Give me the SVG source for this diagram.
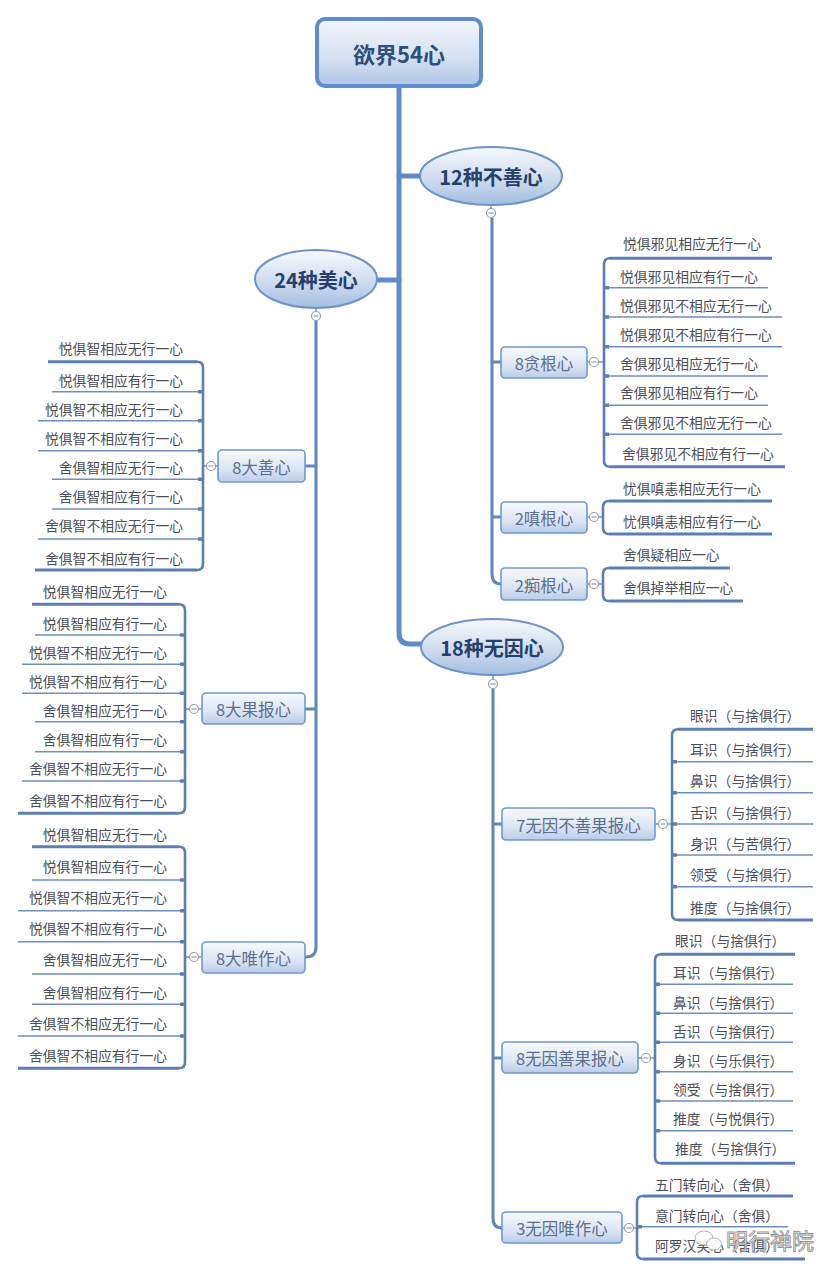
<svg xmlns="http://www.w3.org/2000/svg" width="831" height="1277" viewBox="0 0 831 1277">
<defs>
<linearGradient id="gEll" x1="0" y1="0" x2="0" y2="1">
<stop offset="0" stop-color="#f6f9fd"/><stop offset="0.55" stop-color="#cfdcef"/><stop offset="1" stop-color="#a4bde0"/>
</linearGradient>
<linearGradient id="gRect" x1="0" y1="0" x2="0" y2="1">
<stop offset="0" stop-color="#f8fafd"/><stop offset="0.6" stop-color="#dbe5f3"/><stop offset="1" stop-color="#b9cce8"/>
</linearGradient>
<linearGradient id="gRoot" x1="0" y1="0" x2="0" y2="1">
<stop offset="0" stop-color="#f3f6fb"/><stop offset="0.6" stop-color="#d3dff0"/><stop offset="1" stop-color="#afc5e5"/>
</linearGradient>
</defs>
<style>
text{font-family:"Noto Sans CJK SC","Noto Sans",sans-serif;dominant-baseline:central}
.root{font-size:22px;font-weight:bold;fill:#2f4e7c}
.major{font-size:20px;font-weight:bold;fill:#25406a}
.node{font-size:16.5px;fill:#5c6f8e}
.leaf{font-size:13.8px;fill:#4b4f58}
.ell{fill:url(#gEll);stroke:#6c93cb;stroke-width:2}
.box{fill:url(#gRect);stroke:#7098cf;stroke-width:1.6}
.trunk{fill:none;stroke:#5f8bc8;stroke-width:5;stroke-linecap:round}
.br{fill:none;stroke:#5e87c0;stroke-width:3}
.brk{fill:none;stroke:#5b7fb3;stroke-width:2.6}
.ul{fill:none;stroke:#6f8fbe;stroke-width:1.5}
.ulb{fill:none;stroke:#5b7fb3;stroke-width:3}
.tick{fill:none;stroke:#5b7fb3;stroke-width:3.5}
.col{fill:#fff;stroke:#8d9db5;stroke-width:1.2}
.colm{stroke:#8d9db5;stroke-width:1.2}
.cl{stroke:#7a93b8;stroke-width:1.5}
</style>

<g id="connectors">
<!-- main trunk -->
<path class="trunk" d="M399,87 V633 Q399,644 410,644 H421"/>
<path class="trunk" d="M399,176 H421"/>
<path class="trunk" d="M399,280 H377"/>
<!-- 12 branch -->
<line class="cl" x1="491" y1="205" x2="491" y2="208.5"/>
<path class="br" d="M492,217.5 V574 Q492,584 501,584"/>
<path class="br" d="M492,362 H501"/>
<path class="br" d="M492,517 H501"/>
<!-- 24 branch -->
<line class="cl" x1="316" y1="308" x2="316" y2="311.5"/>
<path class="br" d="M316,320.5 V947 Q316,957 306,957 H305"/>
<path class="br" d="M316,466 H305"/>
<path class="br" d="M316,709 H305"/>
<!-- 18 branch -->
<line class="cl" x1="493" y1="675" x2="493" y2="679.5"/>
<path class="br" d="M493,688.5 V1218 Q493,1228 502,1228"/>
<path class="br" d="M493,824 H502"/>
<path class="br" d="M493,1058 H502"/>

<!-- node to bracket links -->
<line class="cl" x1="587" y1="362" x2="589.5" y2="362"/><line class="cl" x1="598.5" y1="362" x2="604" y2="362"/>
<line class="cl" x1="587" y1="517" x2="589.5" y2="517"/><line class="cl" x1="598.5" y1="517" x2="603" y2="517"/>
<line class="cl" x1="587" y1="584" x2="589.5" y2="584"/><line class="cl" x1="598.5" y1="584" x2="603" y2="584"/>
<line class="cl" x1="218" y1="466" x2="215.5" y2="466"/><line class="cl" x1="206.5" y1="466" x2="203" y2="466"/>
<line class="cl" x1="202" y1="709" x2="198.5" y2="709"/><line class="cl" x1="189.5" y1="709" x2="185" y2="709"/>
<line class="cl" x1="202" y1="957" x2="198.5" y2="957"/><line class="cl" x1="189.5" y1="957" x2="185" y2="957"/>
<line class="cl" x1="655" y1="824" x2="658.5" y2="824"/><line class="cl" x1="667.5" y1="824" x2="672" y2="824"/>
<line class="cl" x1="638" y1="1058" x2="641.5" y2="1058"/><line class="cl" x1="650.5" y1="1058" x2="655" y2="1058"/>
<line class="cl" x1="622" y1="1228" x2="624.5" y2="1228"/><line class="cl" x1="633.5" y1="1228" x2="637" y2="1228"/>

<!-- brackets: 8贪根心 -->
<path class="brk" d="M610,258.3 Q604,258.3 604,264.3 V460.7 Q604,466.7 610,466.7"/>
<path class="ulb" d="M610,258.3 H772"/>
<path class="ul" d="M604,287.7 H768 M604,317 H782 M604,346.7 H782 M604,376 H768 M604,405.3 H768 M604,434.3 H782"/>
<path class="tick" d="M604,287.7 H609 M604,317 H609 M604,346.7 H609 M604,376 H609 M604,405.3 H609 M604,434.3 H609"/>
<path class="ulb" d="M610,466.7 H785"/>
<!-- 2嗔根心 -->
<path class="brk" d="M609,501 Q603,501 603,507 V528 Q603,534 609,534"/>
<path class="ulb" d="M609,501 H772 M609,534 H772"/>
<!-- 2痴根心 -->
<path class="brk" d="M609,568 Q603,568 603,574 V595 Q603,601 609,601"/>
<path class="ulb" d="M609,568 H730 M609,601 H743"/>
<!-- 8大善心 -->
<path class="brk" d="M197,361.7 Q203,361.7 203,367.7 V564 Q203,570 197,570"/>
<path class="ulb" d="M197,361.7 H48"/>
<path class="ul" d="M203,391.7 H52 M203,420.7 H38 M203,450.7 H38 M203,479.3 H52 M203,509 H52 M203,539 H38"/>
<path class="tick" d="M203,391.7 H198 M203,420.7 H198 M203,450.7 H198 M203,479.3 H198 M203,509 H198 M203,539 H198"/>
<path class="ulb" d="M197,570 H35"/>
<!-- 8大果报心 -->
<path class="brk" d="M179,604.3 Q185,604.3 185,610.3 V807.3 Q185,813.3 179,813.3"/>
<path class="ulb" d="M179,604.3 H32"/>
<path class="ul" d="M185,635 H35 M185,664.3 H22 M185,693.3 H22 M185,721.7 H35 M185,751.7 H35 M185,781 H22"/>
<path class="tick" d="M185,635 H180 M185,664.3 H180 M185,693.3 H180 M185,721.7 H180 M185,751.7 H180 M185,781 H180"/>
<path class="ulb" d="M179,813.3 H18"/>
<!-- 8大唯作心 -->
<path class="brk" d="M179,846.7 Q185,846.7 185,852.7 V1062.3 Q185,1068.3 179,1068.3"/>
<path class="ulb" d="M179,846.7 H32"/>
<path class="ul" d="M185,880 H32 M185,910.7 H18 M185,941.7 H18 M185,974 H32 M185,1004.3 H32 M185,1036 H18"/>
<path class="tick" d="M185,880 H180 M185,910.7 H180 M185,941.7 H180 M185,974 H180 M185,1004.3 H180 M185,1036 H180"/>
<path class="ulb" d="M179,1068.3 H18"/>
<!-- 7无因不善果报心 -->
<path class="brk" d="M678,729.3 Q672,729.3 672,735.3 V914 Q672,920 678,920"/>
<path class="ulb" d="M678,729.3 H813"/>
<path class="ul" d="M672,761.7 H813 M672,792.7 H813 M672,824 H813 M672,855 H813 M672,886.7 H813"/>
<path class="tick" d="M672,761.7 H677 M672,792.7 H677 M672,824 H677 M672,855 H677 M672,886.7 H677"/>
<path class="ulb" d="M678,920 H813"/>
<!-- 8无因善果报心 -->
<path class="brk" d="M661,954.3 Q655,954.3 655,960.3 V1157.3 Q655,1163.3 661,1163.3"/>
<path class="ulb" d="M661,954.3 H795"/>
<path class="ul" d="M655,984.3 H793 M655,1013.3 H793 M655,1042.3 H793 M655,1071.7 H793 M655,1101 H793 M655,1130.7 H793"/>
<path class="tick" d="M655,984.3 H660 M655,1013.3 H660 M655,1042.3 H660 M655,1071.7 H660 M655,1101 H660 M655,1130.7 H660"/>
<path class="ulb" d="M661,1163.3 H795"/>
<!-- 3无因唯作心 -->
<path class="brk" d="M643,1196 Q637,1196 637,1202 V1253 Q637,1259 643,1259"/>
<path class="ulb" d="M643,1196 H793"/>
<path class="ul" d="M637,1226.7 H788"/>
<path class="tick" d="M637,1226.7 H642"/>
<path class="ulb" d="M643,1259 H805"/>
</g>

<g id="root">
<rect x="317" y="19" width="164" height="67" rx="8" fill="url(#gRoot)" stroke="#5d8ccf" stroke-width="4"/>
<text class="root" x="399" y="53" text-anchor="middle">欲界54心</text>
</g>

<g id="n12">
<ellipse class="ell" cx="491" cy="176" rx="71" ry="29"/>
<text class="major" x="491" y="176" text-anchor="middle">12种不善心</text>
<circle class="col" cx="491" cy="213" r="4.5"/><line class="colm" x1="488.5" y1="213" x2="493.5" y2="213"/>
</g>
<g id="n24">
<ellipse class="ell" cx="316" cy="279" rx="61" ry="29"/>
<text class="major" x="316" y="279" text-anchor="middle">24种美心</text>
<circle class="col" cx="316" cy="316" r="4.5"/><line class="colm" x1="313.5" y1="316" x2="318.5" y2="316"/>
</g>
<g id="n18">
<ellipse class="ell" cx="492" cy="647" rx="71" ry="28"/>
<text class="major" x="492" y="647" text-anchor="middle">18种无因心</text>
<circle class="col" cx="493" cy="684" r="4.5"/><line class="colm" x1="490.5" y1="684" x2="495.5" y2="684"/>
</g>

<g id="tan">
<rect class="box" x="501" y="347" width="86" height="31" rx="4"/>
<text class="node" x="544" y="362.5" text-anchor="middle">8贪根心</text>
<circle class="col" cx="594" cy="362" r="4.5"/><line class="colm" x1="591.5" y1="362" x2="596.5" y2="362"/>
<text class="leaf" x="623" y="243">悦俱邪见相应无行一心</text>
<text class="leaf" x="620" y="276">悦俱邪见相应有行一心</text>
<text class="leaf" x="620" y="305">悦俱邪见不相应无行一心</text>
<text class="leaf" x="620" y="334">悦俱邪见不相应有行一心</text>
<text class="leaf" x="620" y="363">舍俱邪见相应无行一心</text>
<text class="leaf" x="620" y="392">舍俱邪见相应有行一心</text>
<text class="leaf" x="620" y="422">舍俱邪见不相应无行一心</text>
<text class="leaf" x="622" y="453">舍俱邪见不相应有行一心</text>
</g>

<g id="chen">
<rect class="box" x="501" y="502" width="86" height="31" rx="4"/>
<text class="node" x="544" y="517.5" text-anchor="middle">2嗔根心</text>
<circle class="col" cx="594" cy="517" r="4.5"/><line class="colm" x1="591.5" y1="517" x2="596.5" y2="517"/>
<text class="leaf" x="623" y="488">忧俱嗔恚相应无行一心</text>
<text class="leaf" x="623" y="521">忧俱嗔恚相应有行一心</text>
</g>

<g id="chi">
<rect class="box" x="501" y="568" width="86" height="32" rx="4"/>
<text class="node" x="544" y="584.5" text-anchor="middle">2痴根心</text>
<circle class="col" cx="594" cy="584" r="4.5"/><line class="colm" x1="591.5" y1="584" x2="596.5" y2="584"/>
<text class="leaf" x="623" y="554">舍俱疑相应一心</text>
<text class="leaf" x="623" y="587">舍俱掉举相应一心</text>
</g>

<g id="dashan">
<rect class="box" x="218" y="450" width="87" height="32" rx="4"/>
<text class="node" x="261.5" y="466.5" text-anchor="middle">8大善心</text>
<circle class="col" cx="211" cy="466" r="4.5"/><line class="colm" x1="208.5" y1="466" x2="213.5" y2="466"/>
<text class="leaf" x="183" y="348" text-anchor="end">悦俱智相应无行一心</text>
<text class="leaf" x="183" y="380" text-anchor="end">悦俱智相应有行一心</text>
<text class="leaf" x="183" y="409" text-anchor="end">悦俱智不相应无行一心</text>
<text class="leaf" x="183" y="438" text-anchor="end">悦俱智不相应有行一心</text>
<text class="leaf" x="183" y="467" text-anchor="end">舍俱智相应无行一心</text>
<text class="leaf" x="183" y="496" text-anchor="end">舍俱智相应有行一心</text>
<text class="leaf" x="183" y="525" text-anchor="end">舍俱智不相应无行一心</text>
<text class="leaf" x="183" y="558" text-anchor="end">舍俱智不相应有行一心</text>
</g>

<g id="daguo">
<rect class="box" x="202" y="693" width="103" height="31" rx="4"/>
<text class="node" x="253.5" y="708.5" text-anchor="middle">8大果报心</text>
<circle class="col" cx="194" cy="709" r="4.5"/><line class="colm" x1="191.5" y1="709" x2="196.5" y2="709"/>
<text class="leaf" x="167" y="591" text-anchor="end">悦俱智相应无行一心</text>
<text class="leaf" x="167" y="623" text-anchor="end">悦俱智相应有行一心</text>
<text class="leaf" x="167" y="652" text-anchor="end">悦俱智不相应无行一心</text>
<text class="leaf" x="167" y="681" text-anchor="end">悦俱智不相应有行一心</text>
<text class="leaf" x="167" y="710" text-anchor="end">舍俱智相应无行一心</text>
<text class="leaf" x="167" y="739" text-anchor="end">舍俱智相应有行一心</text>
<text class="leaf" x="167" y="768" text-anchor="end">舍俱智不相应无行一心</text>
<text class="leaf" x="167" y="800" text-anchor="end">舍俱智不相应有行一心</text>
</g>

<g id="dawei">
<rect class="box" x="202" y="942" width="103" height="31" rx="4"/>
<text class="node" x="253.5" y="957.5" text-anchor="middle">8大唯作心</text>
<circle class="col" cx="194" cy="957" r="4.5"/><line class="colm" x1="191.5" y1="957" x2="196.5" y2="957"/>
<text class="leaf" x="167" y="834" text-anchor="end">悦俱智相应无行一心</text>
<text class="leaf" x="167" y="866" text-anchor="end">悦俱智相应有行一心</text>
<text class="leaf" x="167" y="897" text-anchor="end">悦俱智不相应无行一心</text>
<text class="leaf" x="167" y="928" text-anchor="end">悦俱智不相应有行一心</text>
<text class="leaf" x="167" y="959" text-anchor="end">舍俱智相应无行一心</text>
<text class="leaf" x="167" y="992" text-anchor="end">舍俱智相应有行一心</text>
<text class="leaf" x="167" y="1023" text-anchor="end">舍俱智不相应无行一心</text>
<text class="leaf" x="167" y="1055" text-anchor="end">舍俱智不相应有行一心</text>
</g>

<g id="buShanGuo">
<rect class="box" x="502" y="808" width="153" height="32" rx="4"/>
<text class="node" x="578.5" y="824.5" text-anchor="middle">7无因不善果报心</text>
<circle class="col" cx="663" cy="824" r="4.5"/><line class="colm" x1="660.5" y1="824" x2="665.5" y2="824"/>
<text class="leaf" x="690" y="715">眼识（与捨俱行）</text>
<text class="leaf" x="690" y="749">耳识（与捨俱行）</text>
<text class="leaf" x="690" y="780">鼻识（与捨俱行）</text>
<text class="leaf" x="690" y="812">舌识（与捨俱行）</text>
<text class="leaf" x="690" y="843">身识（与苦俱行）</text>
<text class="leaf" x="690" y="874">领受（与捨俱行）</text>
<text class="leaf" x="690" y="907">推度（与捨俱行）</text>
</g>

<g id="shanGuo">
<rect class="box" x="502" y="1042" width="136" height="31" rx="4"/>
<text class="node" x="570" y="1057.5" text-anchor="middle">8无因善果报心</text>
<circle class="col" cx="646" cy="1058" r="4.5"/><line class="colm" x1="643.5" y1="1058" x2="648.5" y2="1058"/>
<text class="leaf" x="675" y="940">眼识（与捨俱行）</text>
<text class="leaf" x="673" y="972">耳识（与捨俱行）</text>
<text class="leaf" x="673" y="1002">鼻识（与捨俱行）</text>
<text class="leaf" x="673" y="1031">舌识（与捨俱行）</text>
<text class="leaf" x="673" y="1060">身识（与乐俱行）</text>
<text class="leaf" x="673" y="1089">领受（与捨俱行）</text>
<text class="leaf" x="673" y="1118">推度（与悦俱行）</text>
<text class="leaf" x="675" y="1148">推度（与捨俱行）</text>
</g>

<g id="weiZuo">
<rect class="box" x="502" y="1212" width="120" height="31" rx="4"/>
<text class="node" x="562" y="1227.5" text-anchor="middle">3无因唯作心</text>
<circle class="col" cx="629" cy="1228" r="4.5"/><line class="colm" x1="626.5" y1="1228" x2="631.5" y2="1228"/>
<text class="leaf" x="655" y="1184">五门转向心（舍俱）</text>
<text class="leaf" x="655" y="1215">意门转向心（舍俱）</text>
<text class="leaf" x="655" y="1245">阿罗汉笑心（舍俱）</text>
</g>

<g id="watermark" opacity="0.9">
<ellipse cx="704" cy="1238" rx="9" ry="7" fill="#fff" stroke="#999" stroke-width="0.8"/>
<ellipse cx="714" cy="1244" rx="7.5" ry="6" fill="#fff" stroke="#999" stroke-width="0.8"/>
<text x="726" y="1239" font-size="22" fill="#fff" stroke="#8a8a8a" stroke-width="0.9">明行禅院</text>
</g>
</svg>
